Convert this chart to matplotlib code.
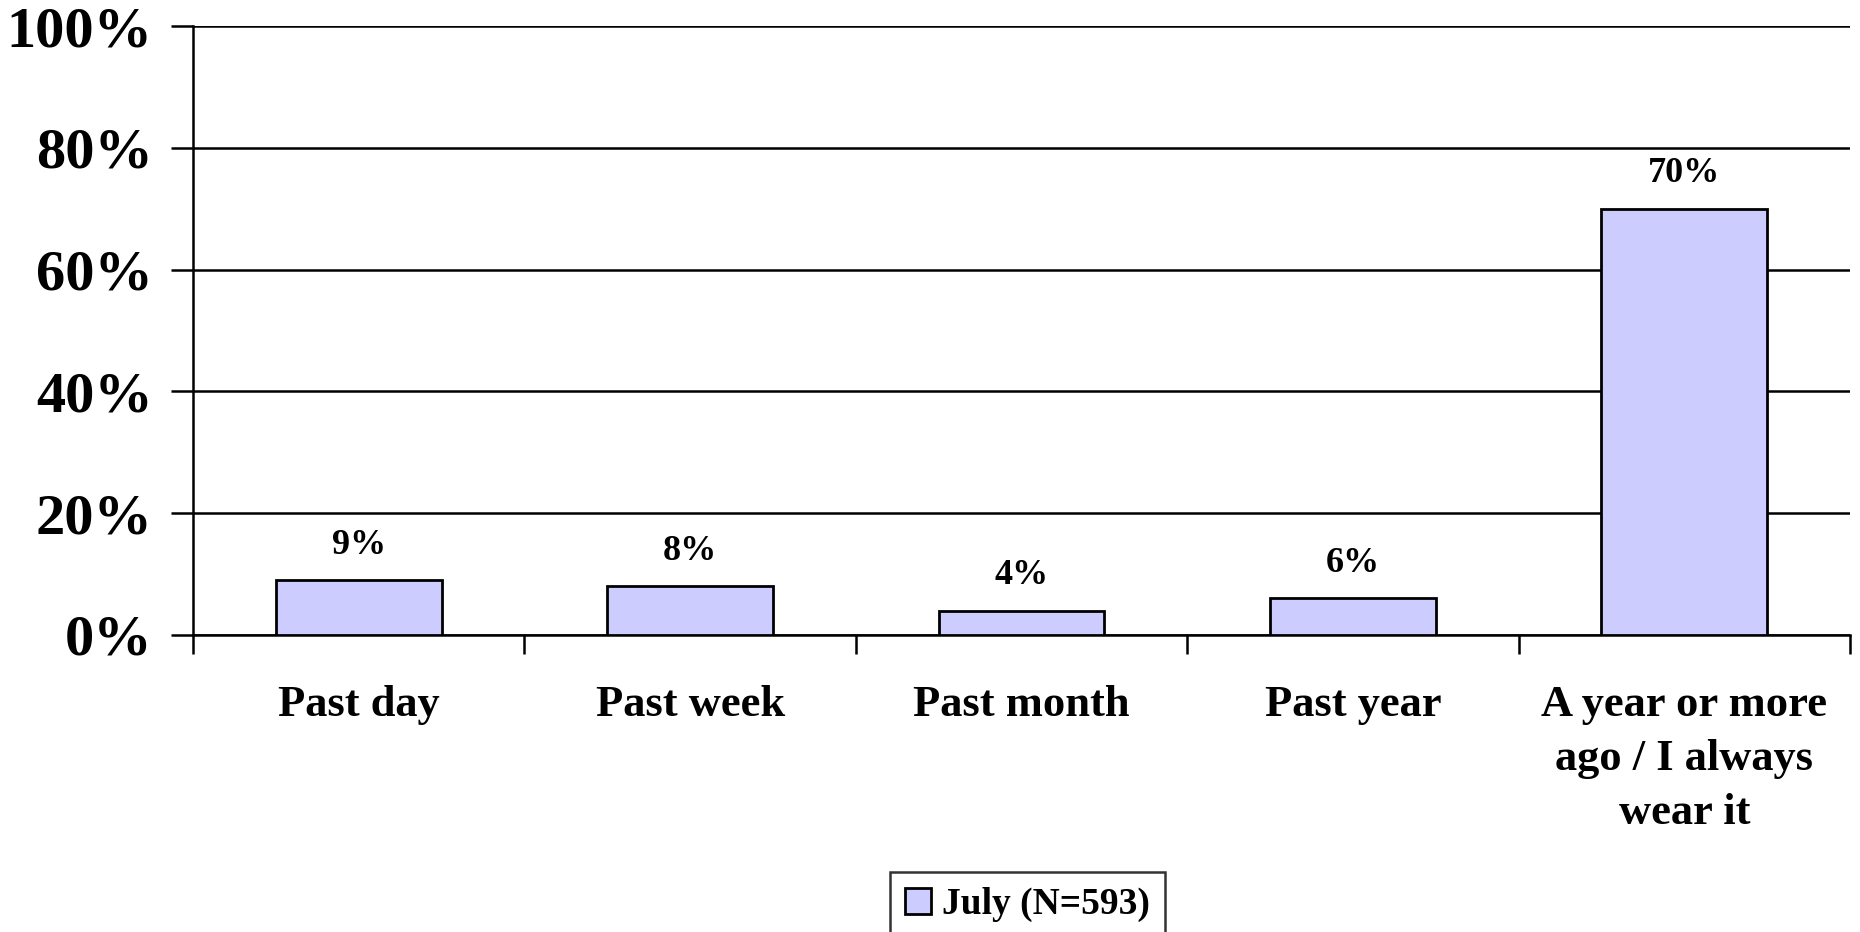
import matplotlib
matplotlib.use("Agg")
import matplotlib.pyplot as plt
import matplotlib.ticker as mtick
import numpy as np

# dados
categorias = ["Past day", "Past week", "Past month", "Past year",
              "A year or more\nago / I always\nwear it"]
valores = [9, 8, 4, 6, 70]
rotulos = ["9%", "8%", "4%", "6%", "70%"]
serie = "July (N=593)"

plt.rcParams["font.family"] = ["Liberation Serif", "DejaVu Serif"]
plt.rcParams["font.weight"] = "bold"

fig = plt.figure(figsize=(18.6, 9.32), dpi=100)
ax = fig.add_axes([0.1038, 0.3187, 0.8908, 0.6533])

x = np.arange(len(categorias))
barras = ax.bar(x, valores, width=0.5, color="#CCCCFF", edgecolor="black",
                linewidth=2.0, label=serie, zorder=3)

for xi, v, r in zip(x, valores, rotulos):
    ax.annotate(r, (xi, v), xytext=(0, 19), textcoords="offset points",
                ha="center", va="baseline", fontsize=26, fontweight="bold")

ax.set_xlim(-0.5, len(categorias) - 0.5)
ax.set_ylim(0, 100)
ax.yaxis.set_major_locator(mtick.MultipleLocator(20))
ax.yaxis.set_major_formatter(mtick.PercentFormatter(decimals=0))
ax.grid(axis="y", color="black", linewidth=1.8, zorder=0)

ax.set_xticks(x)
ax.set_xticklabels(categorias, fontsize=32, fontweight="bold", linespacing=1.45)
ax.set_xticks(np.arange(len(categorias) + 1) - 0.5, minor=True)
ax.tick_params(axis="x", which="major", length=0, pad=36)
ax.tick_params(axis="x", which="minor", length=14, width=1.8, direction="out")
ax.tick_params(axis="y", length=16, width=1.8, pad=13, labelsize=42)
for lbl in ax.get_yticklabels():
    lbl.set_fontweight("bold")

for s in ["top", "right"]:
    ax.spines[s].set_visible(False)
for s in ["left", "bottom"]:
    ax.spines[s].set_linewidth(1.8)

leg = fig.legend(loc="upper center", bbox_to_anchor=(0.5524, 1 - 872 / 932),
                 prop={"size": 27, "weight": "bold"}, frameon=True,
                 fancybox=False, handlelength=0.7, handleheight=0.7,
                 handletextpad=0.3, borderpad=0.4, borderaxespad=0)
leg.get_frame().set_edgecolor("black")
leg.get_frame().set_linewidth(1.8)

fig.savefig("out.png", dpi=100)
